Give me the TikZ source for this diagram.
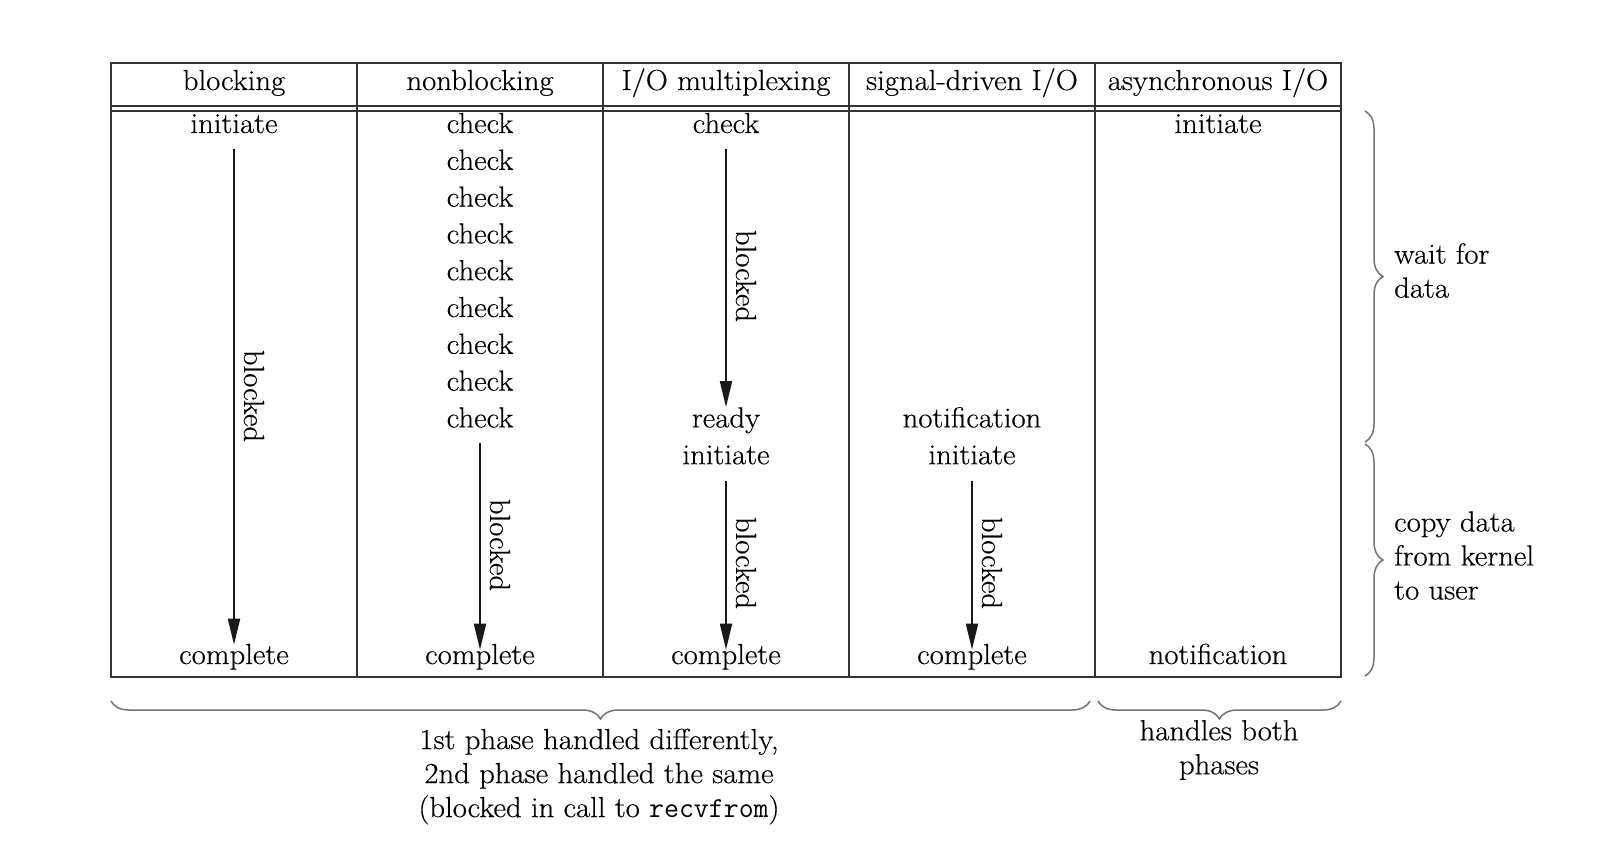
\documentclass[tikz,border=0pt]{standalone}
\usepackage{fontspec}
\setmainfont{Latin Modern Roman}[FakeStretch=1.06,FakeBold=0.4]
\usetikzlibrary{arrows.meta,decorations.pathreplacing}
\begin{document}
\begin{tikzpicture}[x=1pt,y=-1pt,
  txt/.style={font=\fontsize{29}{34}\selectfont, inner sep=0pt, text=black},
  cell/.style={txt, anchor=base},
  arr/.style={draw=black!90, line width=1.8pt, -{Triangle[length=26pt,width=12pt]}},
  blk/.style={txt, rotate=-90, anchor=center},
  frame/.style={draw=black!80, line width=2.4pt},
  rule/.style={draw=black!80, line width=1.6pt},
  brc/.style={draw=black!55, line width=1.5pt, decorate, decoration={brace, amplitude=18pt}},
]
\useasboundingbox (0,0) rectangle (1612,852);
% table
\draw[frame] (111,63) rectangle (1341,677);
\draw[rule] (111,106) -- (1341,106);
\draw[rule] (111,111) -- (1341,111);
\foreach \x in {357,603,849,1095} \draw[frame] (\x,63) -- (\x,677);
% headers
\node[cell] (h1) at (234,90) {blocking};
\node[cell] (h2) at (480,90) {nonblocking};
\node[cell] (h3) at (726,90) {I/O multiplexing};
\node[cell] (h4) at (972,90) {signal-driven I/O};
\node[cell] (h5) at (1218,90) {asynchronous I/O};
% blocking
\node[cell] (bi) at (234,133) {initiate};
\node[cell] (bc) at (234,664) {complete};
\draw[arr, shorten >=-1pt] ([yshift=-16pt]bi.south) -- (bc.north);
\node[blk] (bb) at (254,396) {blocked};
% nonblocking
\foreach \i in {0,...,8} \node[cell] (n\i) at (480,{133+36.8*\i}) {check};
\node[cell] (nc) at (480,664) {complete};
\draw[arr, shorten >=-6pt] ([yshift=-15pt]n8.south) -- (nc.north);
\node[blk] (nb) at (500,545) {blocked};
% I/O multiplexing
\node[cell] (mc) at (726,133) {check};
\node[cell] (mr) at (726,427.4) {ready};
\node[cell] (mi) at (726,464.2) {initiate};
\node[cell] (mcp) at (726,664) {complete};
\draw[arr] ([yshift=-16pt]mc.south) -- (mr.north);
\draw[arr, shorten >=-6pt] ([yshift=-16pt]mi.south) -- (mcp.north);
\node[blk] (mb1) at (746,276) {blocked};
\node[blk] (mb2) at (746,563) {blocked};
% signal-driven
\node[cell] (sn) at (972,427.4) {notification};
\node[cell] (si) at (972,464.2) {initiate};
\node[cell] (sc) at (972,664) {complete};
\draw[arr, shorten >=-6pt] ([yshift=-16pt]si.south) -- (sc.north);
\node[blk] (sb) at (992,563) {blocked};
% asynchronous
\node[cell] (ai) at (1218,133) {initiate};
\node[cell] (an) at (1218,664) {notification};
% right braces
\draw[brc] (1365,111) -- (1365,442);
\draw[brc] (1365,444) -- (1365,676);
\node[txt, align=left, anchor=west] (wd) at (1394,270.5) {wait for\\data};
\node[txt, align=left, anchor=west] (cd) at (1394,555.5) {copy data\\from kernel\\to user};
% bottom braces
\draw[brc] (1090,701) -- (111,701);
\draw[brc] (1341,701) -- (1098,701);
\node[txt, align=center] (p1) at (599,776.5) {1st phase handled differently,\\2nd phase handled the same\\(blocked in call to {\fontspec{Latin Modern Mono}recvfrom})};
\node[txt, align=center] (p2) at (1219,750) {handles both\\phases};
\end{tikzpicture}
\end{document}
